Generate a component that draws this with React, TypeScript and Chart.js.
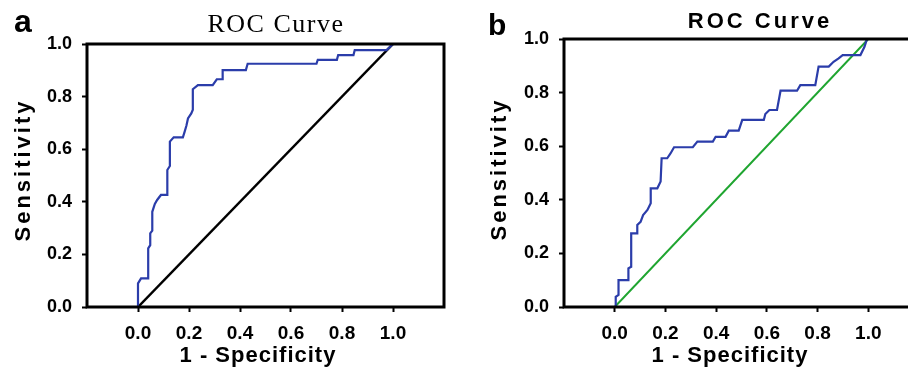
import React, { useEffect, useRef } from "react";
import { Chart, registerables } from "chart.js";

Chart.register(...registerables);

// Panel a: ROC curve vertices (1 - specificity, sensitivity)
const fprA = [0, 0, 0.012, 0.04, 0.04, 0.048, 0.048, 0.056, 0.056, 0.066, 0.075, 0.09, 0.115, 0.115, 0.125, 0.125, 0.14, 0.176, 0.183, 0.19, 0.196, 0.209, 0.215, 0.215, 0.235, 0.293, 0.309, 0.332, 0.332, 0.423, 0.43, 0.7, 0.705, 0.78, 0.785, 0.845, 0.85, 0.975, 1.0];
const tprA = [0, 0.09, 0.109, 0.109, 0.223, 0.235, 0.28, 0.29, 0.362, 0.392, 0.407, 0.426, 0.426, 0.521, 0.536, 0.629, 0.645, 0.645, 0.667, 0.69, 0.717, 0.736, 0.75, 0.828, 0.844, 0.844, 0.866, 0.866, 0.901, 0.901, 0.925, 0.925, 0.94, 0.94, 0.958, 0.958, 0.977, 0.977, 1.0];

// Panel b: ROC curve vertices
const fprB = [0.004, 0.004, 0.015, 0.015, 0.054, 0.054, 0.065, 0.065, 0.089, 0.089, 0.102, 0.112, 0.129, 0.142, 0.142, 0.168, 0.181, 0.185, 0.207, 0.22, 0.234, 0.308, 0.326, 0.387, 0.398, 0.437, 0.45, 0.489, 0.503, 0.588, 0.594, 0.61, 0.64, 0.654, 0.719, 0.732, 0.791, 0.804, 0.844, 0.863, 0.883, 0.899, 0.969, 0.985, 0.995];
const tprB = [0, 0.038, 0.045, 0.1, 0.1, 0.144, 0.15, 0.275, 0.275, 0.306, 0.318, 0.343, 0.362, 0.387, 0.443, 0.443, 0.468, 0.555, 0.555, 0.573, 0.596, 0.596, 0.617, 0.617, 0.635, 0.635, 0.658, 0.658, 0.698, 0.698, 0.72, 0.735, 0.735, 0.807, 0.807, 0.828, 0.828, 0.897, 0.897, 0.915, 0.928, 0.94, 0.94, 0.971, 1.0];

// Reference (chance) diagonal
const refX = [0, 1];
const refY = [0, 1];

const X_MIN = -0.2;
const X_MAX = 1.2;
const Y_MIN = 0;
const Y_MAX = 1;
const TICK_STEP = 0.2;

const titleText = "ROC Curve";
const xTitleText = "1 - Specificity";
const yTitleText = "Sensitivity";
const panelLabels = ["a", "b"];

const SANS = "'Liberation Sans', Arial, sans-serif";
const SERIF = "'Liberation Serif', 'Times New Roman', serif";

const zip = (xs: number[], ys: number[]) => xs.map((x, i) => ({ x, y: ys[i] }));

const fmt = (v: any) => {
  let n = Number(v);
  if (Math.abs(n) < 1e-9) n = 0;
  return n.toFixed(1);
};

const decorPlugin = {
  id: "decor",
  afterDraw(chart: any, _args: any, opts: any) {
    const ctx = chart.ctx as CanvasRenderingContext2D;
    const a = chart.chartArea;
    ctx.save();
    // frame
    ctx.strokeStyle = "#000";
    ctx.lineWidth = 3;
    ctx.lineCap = "square";
    ctx.strokeRect(a.left, a.top, a.right - a.left, a.bottom - a.top);
    ctx.fillStyle = "#000";
    ctx.textBaseline = "alphabetic";
    // panel label
    ctx.font = `bold ${opts.labelSize}px ${SANS}`;
    ctx.textAlign = "left";
    (ctx as any).letterSpacing = "0px";
    ctx.fillText(opts.label, opts.labelX, opts.labelY);
    // title
    ctx.font = opts.titleFont;
    (ctx as any).letterSpacing = opts.titleSpacing;
    ctx.textAlign = "center";
    ctx.fillText(titleText, opts.titleX, opts.titleY);
    // x title
    ctx.font = `bold 22px ${SANS}`;
    (ctx as any).letterSpacing = "1px";
    ctx.fillText(xTitleText, opts.xTitleX, opts.xTitleY);
    // y title
    ctx.save();
    ctx.translate(opts.yTitleX, opts.yTitleY);
    ctx.rotate(-Math.PI / 2);
    (ctx as any).letterSpacing = "3px";
    ctx.fillText(yTitleText, 0, 0);
    ctx.restore();
    ctx.restore();
  },
};

const inRange = (v: number) => v > -0.001 && v < 1.001;

function buildChart(canvas: HTMLCanvasElement, p: any) {
  return new Chart(canvas, {
    type: "line",
    data: {
      datasets: [
        {
          data: zip(p.fpr, p.tpr),
          borderColor: "#2b3daa",
          borderWidth: 2.2,
          pointRadius: 0,
          tension: 0,
          fill: false,
        },
        {
          data: zip(refX, refY),
          borderColor: p.refColor,
          borderWidth: p.refWidth,
          pointRadius: 0,
          tension: 0,
          fill: false,
        },
      ],
    },
    options: {
      responsive: false,
      maintainAspectRatio: false,
      animation: false,
      events: [],
      layout: { padding: { left: 0, right: p.padRight, top: p.padTop, bottom: 0 } },
      plugins: {
        legend: { display: false },
        tooltip: { enabled: false },
        title: { display: false },
        decor: p.decor,
      } as any,
      scales: {
        x: {
          type: "linear",
          min: X_MIN,
          max: X_MAX,
          afterFit: (s: any) => {
            s.height = p.xAxisHeight;
          },
          ticks: {
            stepSize: TICK_STEP,
            autoSkip: false,
            maxRotation: 0,
            padding: 10,
            color: "#000",
            font: { family: SANS, size: 19, weight: "bold" },
            callback: (v: any) => (inRange(Number(v)) ? fmt(v) : ""),
          },
          grid: {
            drawOnChartArea: false,
            drawTicks: true,
            tickLength: 5,
            tickWidth: 2,
            tickColor: (c: any) => (c.tick && inRange(c.tick.value) ? "#000" : "rgba(0,0,0,0)"),
          },
          border: { display: false },
        },
        y: {
          type: "linear",
          min: Y_MIN,
          max: Y_MAX,
          afterFit: (s: any) => {
            s.width = p.yAxisWidth;
          },
          ticks: {
            stepSize: TICK_STEP,
            padding: 10,
            color: "#000",
            font: { family: SANS, size: 18, weight: "bold" },
            callback: (v: any) => fmt(v),
          },
          grid: {
            drawOnChartArea: false,
            drawTicks: true,
            tickLength: 5,
            tickWidth: 2,
            tickColor: "#000",
          },
          border: { display: false },
        },
      },
    },
    plugins: [decorPlugin],
  } as any);
}

const panelA = {
  fpr: fprA,
  tpr: tprA,
  refColor: "#000000",
  refWidth: 2.5,
  padRight: 8,
  padTop: 44,
  yAxisWidth: 87,
  xAxisHeight: 67,
  decor: {
    label: panelLabels[0],
    labelSize: 32,
    labelX: 14,
    labelY: 32,
    titleFont: `26px ${SERIF}`,
    titleSpacing: "1.5px",
    titleX: 276,
    titleY: 32,
    xTitleX: 258,
    xTitleY: 362,
    yTitleX: 30,
    yTitleY: 170,
  },
};

const panelB = {
  fpr: fprB,
  tpr: tprB,
  refColor: "#1fa530",
  refWidth: 2,
  padRight: 10,
  padTop: 39,
  yAxisWidth: 110,
  xAxisHeight: 67,
  decor: {
    label: panelLabels[1],
    labelSize: 30,
    labelX: 34,
    labelY: 35,
    titleFont: `bold 22px ${SANS}`,
    titleSpacing: "3px",
    titleX: 306,
    titleY: 28,
    xTitleX: 276,
    xTitleY: 362,
    yTitleX: 52,
    yTitleY: 169,
  },
};

export default function App() {
  const refA = useRef<HTMLCanvasElement>(null);
  const refB = useRef<HTMLCanvasElement>(null);

  useEffect(() => {
    const ca = buildChart(refA.current!, panelA);
    const cb = buildChart(refB.current!, panelB);
    return () => {
      ca.destroy();
      cb.destroy();
    };
  }, []);

  return (
    <div
      style={{
        position: "absolute",
        left: 0,
        top: 0,
        width: 908,
        height: 374,
        overflow: "hidden",
        background: "#fff",
      }}
    >
      <canvas
        ref={refA}
        width={454}
        height={374}
        style={{ position: "absolute", left: 0, top: 0, width: 454, height: 374 }}
      />
      <canvas
        ref={refB}
        width={475}
        height={374}
        style={{ position: "absolute", left: 454, top: 0, width: 475, height: 374 }}
      />
    </div>
  );
}
